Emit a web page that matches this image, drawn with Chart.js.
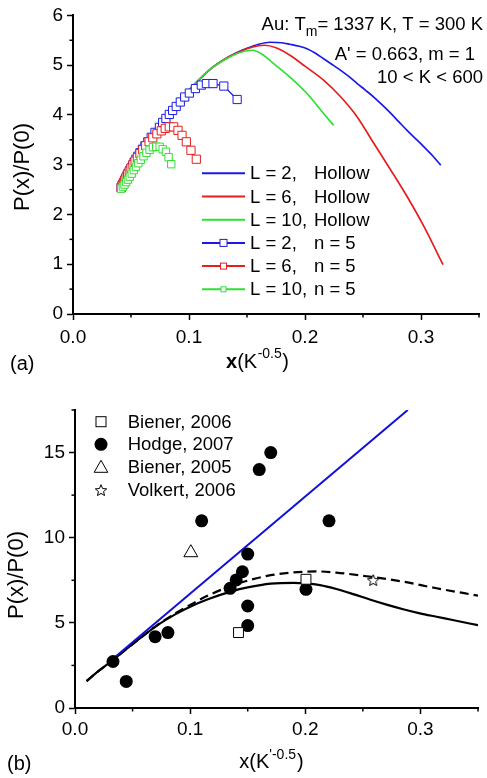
<!DOCTYPE html>
<html><head><meta charset="utf-8">
<script src="https://cdn.jsdelivr.net/npm/chart.js@4/dist/chart.umd.min.js"></script>
<style>
html,body{margin:0;padding:0;background:#fff;}
#wrapA{position:absolute;left:0;top:0;width:487px;height:380px;}
#wrapB{position:absolute;left:0;top:380px;width:487px;height:398px;}
canvas{display:block;}
</style></head><body>
<div id="wrapA"><canvas id="chartA" width="487" height="380"></canvas></div>
<div id="wrapB"><canvas id="chartB" width="487" height="398"></canvas></div>
<script>
// ---------- tick labels ----------
const xTicks = [0, 0.1, 0.2, 0.3];
const xTickLabels = ['0.0', '0.1', '0.2', '0.3'];
const xMinorTicks = [0.05, 0.15, 0.25, 0.35];
const yTicksA = [0, 1, 2, 3, 4, 5, 6];
const yTickLabelsA = ['0', '1', '2', '3', '4', '5', '6'];
const yMinorTicksA = [0.5, 1.5, 2.5, 3.5, 4.5, 5.5];
const yTicksB = [0, 5, 10, 15];
const yTickLabelsB = ['0', '5', '10', '15'];
const yMinorTicksB = [2.5, 7.5, 12.5, 17.5];

// ---------- panel (a) series ----------
const legendA = ['L = 2,', 'L = 6,', 'L = 10,', 'L = 2,', 'L = 6,', 'L = 10,'];
const legendA2 = ['Hollow', 'Hollow', 'Hollow', 'n = 5', 'n = 5', 'n = 5'];

const hollowL2X = [0.041,0.05,0.06,0.07,0.08,0.09,0.10,0.11,0.12,0.13,0.14,0.15,0.16,0.17,0.18,0.187,0.195,0.2017,0.209,0.216,0.223,0.2305,0.238,0.245,0.252,0.2593,0.267,0.274,0.281,0.288,0.295,0.3025,0.31,0.317];
const hollowL2Y = [2.52,2.93,3.32,3.63,3.92,4.22,4.50,4.74,4.95,5.11,5.24,5.34,5.42,5.46,5.45,5.42,5.38,5.33,5.24,5.13,5.02,4.90,4.77,4.63,4.50,4.36,4.19,4.03,3.86,3.69,3.53,3.36,3.18,2.99];

const hollowL6X = [0.041,0.05,0.06,0.07,0.08,0.09,0.10,0.11,0.12,0.13,0.14,0.15,0.16,0.165,0.175,0.187,0.2,0.216,0.2305,0.245,0.2593,0.274,0.288,0.3025,0.319];
const hollowL6Y = [2.52,2.93,3.32,3.63,3.92,4.22,4.50,4.74,4.95,5.11,5.23,5.33,5.39,5.40,5.35,5.20,4.98,4.70,4.37,3.96,3.43,2.89,2.36,1.76,0.99];

const hollowL10X = [0.041,0.05,0.06,0.07,0.08,0.09,0.10,0.11,0.12,0.13,0.14,0.148,0.155,0.163,0.173,0.187,0.2017,0.216,0.2247];
const hollowL10Y = [2.52,2.93,3.32,3.63,3.92,4.22,4.50,4.74,4.95,5.10,5.22,5.28,5.30,5.22,5.03,4.76,4.43,4.03,3.79];

const n5L2X = [0.0415,0.0423,0.043,0.0439,0.0447,0.0456,0.0466,0.0477,0.0488,0.05,0.0513,0.0527,0.0542,0.0559,0.0577,0.0598,0.062,0.0645,0.0674,0.0707,0.0745,0.0773,0.0801,0.083,0.0859,0.089,0.0925,0.0963,0.1003,0.1055,0.1106,0.115,0.1207,0.130,0.1415];
const n5L2Y = [2.54,2.58,2.61,2.65,2.69,2.73,2.78,2.83,2.88,2.93,2.99,3.05,3.11,3.17,3.24,3.31,3.38,3.46,3.55,3.65,3.75,3.85,3.93,4.01,4.09,4.17,4.26,4.36,4.44,4.53,4.60,4.63,4.63,4.58,4.31];

const n5L6X = [0.0415,0.0425,0.0435,0.0446,0.0458,0.0471,0.0485,0.05,0.0517,0.0535,0.0555,0.0577,0.0601,0.0627,0.0656,0.0688,0.0723,0.0761,0.0795,0.083,0.0868,0.0905,0.094,0.0977,0.1017,0.1063];
const n5L6Y = [2.54,2.59,2.64,2.69,2.75,2.81,2.87,2.93,3.00,3.07,3.14,3.22,3.30,3.38,3.46,3.54,3.62,3.68,3.73,3.76,3.76,3.69,3.59,3.46,3.29,3.11];

const n5L10X = [0.0415,0.043,0.0444,0.0458,0.0473,0.0489,0.0506,0.0524,0.0543,0.0563,0.0585,0.0608,0.0633,0.066,0.0689,0.0717,0.0747,0.0773,0.0801,0.0824,0.0847];
const n5L10Y = [2.52,2.56,2.60,2.65,2.70,2.76,2.82,2.89,2.96,3.03,3.10,3.17,3.24,3.30,3.35,3.36,3.36,3.31,3.26,3.15,3.01];

// ---------- panel (b) series ----------
const legendB = ['Biener, 2006', 'Hodge, 2007', 'Biener, 2005', 'Volkert, 2006'];

const solidX = [0.01,0.02,0.032,0.045,0.058,0.072,0.087,0.1,0.116,0.136,0.15,0.17,0.19,0.2,0.2127,0.227,0.2416,0.256,0.2706,0.285,0.2995,0.314,0.328,0.35];
const solidY = [1.58,2.15,2.77,3.48,4.17,4.88,5.50,5.95,6.40,6.85,7.08,7.30,7.35,7.32,7.22,6.99,6.69,6.37,6.07,5.80,5.56,5.36,5.17,4.86];

const dashedX = [0.01,0.02,0.032,0.045,0.058,0.072,0.087,0.1,0.116,0.136,0.15,0.17,0.198,0.21,0.227,0.256,0.285,0.314,0.35];
const dashedY = [1.58,2.15,2.77,3.48,4.17,4.90,5.55,6.05,6.62,7.18,7.48,7.80,8.00,8.02,7.95,7.71,7.42,7.03,6.60];

const blueLineX = [0.032, 0.289];
const blueLineY = [2.83, 17.5];

const hodgeX = [0.033,0.0445,0.0696,0.0807,0.110,0.1347,0.140,0.1454,0.150,0.150,0.150,0.160,0.170,0.2006,0.2206];
const hodgeY = [2.73,1.56,4.19,4.43,10.99,7.03,7.52,8.0,9.04,5.99,4.84,14.0,15.0,6.97,10.99];
const biener2006X = [0.142, 0.2006];
const biener2006Y = [4.43, 7.56];
const biener2005X = [0.1006];
const biener2005Y = [9.12];
const volkertX = [0.259];
const volkertY = [7.52];

// ---------- helpers ----------
const FONT = '"Liberation Sans", Arial, Helvetica, sans-serif';
const BLUE = '#1a1ae6', RED = '#e61e1e', GREEN = '#30e030';
function pts(xs, ys) { return xs.map((x, i) => ({x: x, y: ys[i]})); }

function makeStar(size) {
  const c = document.createElement('canvas'); c.width = size; c.height = size;
  const g = c.getContext('2d');
  const cx = size / 2, cy = size / 2 + 0.7, R = size / 2 - 1, r = R * 0.45;
  g.beginPath();
  for (let i = 0; i < 10; i++) {
    const a = -Math.PI / 2 + i * Math.PI / 5; const rr = i % 2 ? r : R;
    g.lineTo(cx + rr * Math.cos(a), cy + rr * Math.sin(a));
  }
  g.closePath(); g.fillStyle = '#fff'; g.fill(); g.strokeStyle = '#000'; g.lineWidth = 1; g.stroke();
  return c;
}
const starImg = makeStar(14);

const minorTicks = {
  id: 'minorTicks',
  afterDraw(chart, args, opts) {
    const ctx = chart.ctx, xs = chart.scales.x, ys = chart.scales.y;
    ctx.save(); ctx.strokeStyle = '#000'; ctx.lineWidth = 1.5;
    opts.x.forEach(v => { const p = xs.getPixelForValue(v); ctx.beginPath(); ctx.moveTo(p, ys.bottom); ctx.lineTo(p, ys.bottom + 3.5); ctx.stroke(); });
    opts.y.forEach(v => { const p = ys.getPixelForValue(v); ctx.beginPath(); ctx.moveTo(xs.left, p); ctx.lineTo(xs.left - 3.5, p); ctx.stroke(); });
    ctx.restore();
  }
};

function axisScales(yMin, yMax, yTicks, yLabels, yWidth, xHeight, xPad) {
  return {
    x: {
      type: 'linear', min: 0, max: 0.35,
      afterBuildTicks: s => { s.ticks = xTicks.map(v => ({value: v})); },
      afterFit: s => { s.height = xHeight; },
      ticks: { autoSkip: false, maxRotation: 0, padding: xPad, color: '#000', font: {family: FONT, size: 19},
               callback: (v, i) => xTickLabels[i] },
      grid: { display: true, drawOnChartArea: false, drawTicks: true, tickLength: 6, tickWidth: 1.5, tickColor: '#000' },
      border: { display: true, color: '#000', width: 2 }
    },
    y: {
      type: 'linear', min: yMin, max: yMax,
      afterBuildTicks: s => { s.ticks = yTicks.map(v => ({value: v})); },
      afterFit: s => { s.width = yWidth; },
      ticks: { autoSkip: false, padding: 4, color: '#000', font: {family: FONT, size: 19},
               callback: (v, i) => yLabels[i] },
      grid: { display: true, drawOnChartArea: false, drawTicks: true, tickLength: 6, tickWidth: 1.5, tickColor: '#000' },
      border: { display: true, color: '#000', width: 2 }
    }
  };
}

function drawRotated(ctx, text, x, y, size) {
  ctx.save(); ctx.translate(x, y); ctx.rotate(-Math.PI / 2);
  ctx.font = size + 'px ' + FONT; ctx.textAlign = 'center'; ctx.textBaseline = 'middle';
  ctx.fillStyle = '#000'; ctx.fillText(text, 0, 0); ctx.restore();
}

// ---------- panel (a) text plugin ----------
const textA = {
  id: 'textA',
  afterDraw(chart) {
    const ctx = chart.ctx; ctx.save(); ctx.fillStyle = '#000';
    drawRotated(ctx, 'P(x)/P(0)', 23, 167, 22);
    const big = '20px ' + FONT, bold = 'bold 20px ' + FONT, sup = '14px ' + FONT;
    ctx.textBaseline = 'alphabetic'; ctx.textAlign = 'left';
    ctx.font = bold; const w1 = ctx.measureText('x').width;
    ctx.font = big; const w2 = ctx.measureText('(K').width; const w4 = ctx.measureText(')').width;
    ctx.font = sup; const w3 = ctx.measureText('-0.5').width;
    let x0 = 257 - (w1 + w2 + w3 + w4) / 2; const bl = 368;
    ctx.font = bold; ctx.fillText('x', x0, bl); x0 += w1;
    ctx.font = big; ctx.fillText('(K', x0, bl); x0 += w2;
    ctx.font = sup; ctx.fillText('-0.5', x0 + 0.5, bl - 10); x0 += w3 + 1;
    ctx.font = big; ctx.fillText(')', x0, bl);
    ctx.font = '20px ' + FONT; ctx.fillText('(a)', 10, 370);
    const af = '18.5px ' + FONT, sf = '14px ' + FONT;
    ctx.font = af; const p3 = '= 1337 K, T = 300 K'; const wp3 = ctx.measureText(p3).width;
    ctx.font = sf; const wm = ctx.measureText('m').width;
    ctx.font = af; const wp1 = ctx.measureText('Au: T').width;
    let xr = 483 - wp3 - wm - wp1;
    ctx.fillText('Au: T', xr, 30); xr += wp1;
    ctx.font = sf; ctx.fillText('m', xr, 36); xr += wm;
    ctx.font = af; ctx.fillText(p3, xr, 30);
    ctx.textAlign = 'right';
    ctx.fillText("A' = 0.663, m = 1", 475, 60);
    ctx.fillText('10 < K < 600', 483, 83);
    const cols = [BLUE, RED, GREEN, BLUE, RED, GREEN];
    const msz = [0, 0, 0, 7, 6, 5];
    ctx.textAlign = 'left'; ctx.textBaseline = 'middle'; ctx.font = '18.5px ' + FONT;
    for (let i = 0; i < 6; i++) {
      const y = 173.3 + i * 23.2;
      ctx.strokeStyle = cols[i]; ctx.lineWidth = 2;
      ctx.beginPath(); ctx.moveTo(202, y); ctx.lineTo(245, y); ctx.stroke();
      if (msz[i]) {
        const s = msz[i]; ctx.fillStyle = '#fff'; ctx.fillRect(223.5 - s / 2, y - s / 2, s, s);
        ctx.lineWidth = 1; ctx.strokeRect(223.5 - s / 2, y - s / 2, s, s);
      }
      ctx.fillStyle = '#000';
      ctx.fillText(legendA[i], 250, y + 1);
      ctx.fillText(legendA2[i], 314, y + 1);
    }
    ctx.restore();
  }
};

// ---------- panel (b) text plugin ----------
const textB = {
  id: 'textB',
  afterDraw(chart) {
    const ctx = chart.ctx; ctx.save(); ctx.fillStyle = '#000';
    drawRotated(ctx, 'P(x)/P(0)', 17, 195, 22);
    const big = '20px ' + FONT, sup = '14px ' + FONT;
    ctx.textBaseline = 'alphabetic'; ctx.textAlign = 'left';
    ctx.font = big; const w1 = ctx.measureText('x(K').width; const w4 = ctx.measureText(')').width;
    ctx.font = sup; const w3 = ctx.measureText("'-0.5").width;
    let x0 = 271 - (w1 + w3 + w4) / 2; const bl = 388;
    ctx.font = big; ctx.fillText('x(K', x0, bl); x0 += w1;
    ctx.font = sup; ctx.fillText("'-0.5", x0, bl - 9); x0 += w3 + 1;
    ctx.font = big; ctx.fillText(')', x0, bl);
    ctx.fillText('(b)', 7, 390);
    ctx.font = '18.5px ' + FONT; ctx.textBaseline = 'middle';
    const rows = [41.7, 64.3, 87.3, 110];
    const mx = 101;
    ctx.strokeStyle = '#000'; ctx.lineWidth = 1;
    ctx.fillStyle = '#fff'; ctx.fillRect(mx - 5, rows[0] - 5, 10, 10); ctx.strokeRect(mx - 5, rows[0] - 5, 10, 10);
    ctx.fillStyle = '#000'; ctx.beginPath(); ctx.arc(mx, rows[1], 6.5, 0, Math.PI * 2); ctx.fill();
    ctx.beginPath(); ctx.moveTo(mx, rows[2] - 7); ctx.lineTo(mx + 6.8, rows[2] + 5); ctx.lineTo(mx - 6.8, rows[2] + 5); ctx.closePath();
    ctx.fillStyle = '#fff'; ctx.fill(); ctx.stroke();
    ctx.drawImage(starImg, mx - 7, rows[3] - 7);
    ctx.fillStyle = '#000';
    legendB.forEach((t, i) => ctx.fillText(t, 127.7, rows[i] + 1));
    ctx.restore();
  }
};

Chart.defaults.font.family = FONT;
Chart.defaults.color = '#000';

new Chart(document.getElementById('chartA'), {
  type: 'scatter',
  data: { datasets: [
    { data: pts(n5L10X, n5L10Y), showLine: true, borderColor: GREEN, borderWidth: 1.3, pointStyle: 'rect', pointRadius: 5.2, pointBorderWidth: 1, pointBorderColor: GREEN, pointBackgroundColor: '#fff' },
    { data: pts(n5L6X, n5L6Y), showLine: true, borderColor: RED, borderWidth: 1.3, pointStyle: 'rect', pointRadius: 5.8, pointBorderWidth: 1, pointBorderColor: RED, pointBackgroundColor: '#fff' },
    { data: pts(n5L2X, n5L2Y), showLine: true, borderColor: BLUE, borderWidth: 1.3, pointStyle: 'rect', pointRadius: 5.8, pointBorderWidth: 1, pointBorderColor: BLUE, pointBackgroundColor: '#fff' },
    { data: pts(hollowL10X, hollowL10Y), showLine: true, borderColor: GREEN, borderWidth: 1.7, pointRadius: 0, cubicInterpolationMode: 'monotone' },
    { data: pts(hollowL6X, hollowL6Y), showLine: true, borderColor: RED, borderWidth: 1.7, pointRadius: 0, cubicInterpolationMode: 'monotone' },
    { data: pts(hollowL2X, hollowL2Y), showLine: true, borderColor: BLUE, borderWidth: 1.7, pointRadius: 0, cubicInterpolationMode: 'monotone' }
  ]},
  options: {
    responsive: false, animation: false, devicePixelRatio: 1,
    layout: { padding: { top: 15, right: 8, left: 0, bottom: 0 } },
    plugins: { legend: { display: false }, tooltip: { enabled: false },
               minorTicks: { x: xMinorTicks, y: yMinorTicksA } },
    scales: axisScales(0, 6, yTicksA, yTickLabelsA, 73, 66, 6)
  },
  plugins: [minorTicks, textA]
});

new Chart(document.getElementById('chartB'), {
  type: 'scatter',
  data: { datasets: [
    { data: pts(biener2006X, biener2006Y), pointStyle: 'rect', pointRadius: 7, pointBorderWidth: 1, pointBorderColor: '#000', pointBackgroundColor: '#fff' },
    { data: pts(volkertX, volkertY), pointStyle: starImg, pointRadius: 7 },
    { data: pts(biener2005X, biener2005Y), pointStyle: 'triangle', pointRadius: 8, pointBorderWidth: 1, pointBorderColor: '#000', pointBackgroundColor: '#fff' },
    { data: pts(hodgeX, hodgeY), pointStyle: 'circle', pointRadius: 6.5, pointBorderWidth: 0, pointBackgroundColor: '#000' },
    { data: pts(blueLineX, blueLineY), showLine: true, borderColor: '#1010d8', borderWidth: 2, pointRadius: 0 },
    { data: pts(dashedX, dashedY), showLine: true, borderColor: '#000', borderWidth: 2.2, borderDash: [9, 5], pointRadius: 0, cubicInterpolationMode: 'monotone' },
    { data: pts(solidX, solidY), showLine: true, borderColor: '#000', borderWidth: 2.2, pointRadius: 0, cubicInterpolationMode: 'monotone' }
  ]},
  options: {
    responsive: false, animation: false, devicePixelRatio: 1,
    layout: { padding: { top: 30, right: 8, left: 0, bottom: 0 } },
    plugins: { legend: { display: false }, tooltip: { enabled: false },
               minorTicks: { x: xMinorTicks, y: yMinorTicksB } },
    scales: axisScales(0, 17.5, yTicksB, yTickLabelsB, 75, 70, 4)
  },
  plugins: [minorTicks, textB]
});
</script>
</body></html>
